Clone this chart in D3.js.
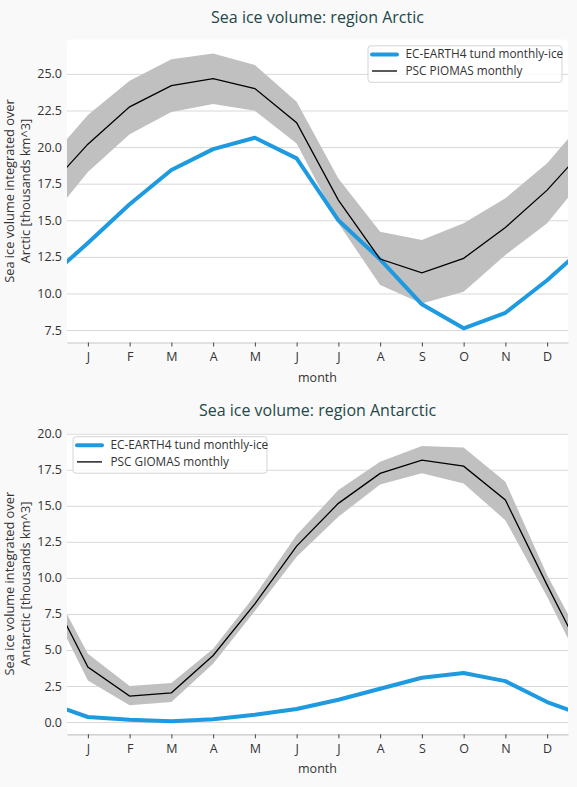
<!DOCTYPE html>
<html>
<head>
<meta charset="utf-8">
<script src="https://cdn.jsdelivr.net/npm/d3@7"></script>
<style>
  html, body { margin: 0; padding: 0; background: #f9f9f9; }
  svg { display: block; font-family: "Open Sans", "Noto Sans", "DejaVu Sans", sans-serif; }
</style>
</head>
<body>
<svg id="chart" width="577" height="787"></svg>
<script>
// ---- data ----
const monthLabels = ["J", "F", "M", "A", "M", "J", "J", "A", "S", "O", "N", "D"];
const monthIndex = [1, 2, 3, 4, 5, 6, 7, 8, 9, 10, 11, 12];

const arcticModel   = [13.45, 16.1, 18.43, 19.86, 20.64, 19.23, 15.0, 12.33, 9.26, 7.62, 8.68, 10.9];
const arcticObs     = [20.2, 22.75, 24.2, 24.67, 24.0, 21.66, 16.38, 12.35, 11.41, 12.4, 14.5, 17.06];
const arcticObsLow  = [18.3, 20.87, 22.4, 22.94, 22.48, 20.25, 14.79, 10.57, 9.32, 10.12, 12.62, 14.79];
const arcticObsHigh = [22.2, 24.53, 26.0, 26.4, 25.6, 23.1, 17.86, 14.21, 13.65, 14.79, 16.5, 18.89];

const antarcticModel   = [0.35, 0.16, 0.05, 0.19, 0.51, 0.9, 1.55, 2.31, 3.07, 3.40, 2.84, 1.39];
const antarcticObs     = [3.81, 1.80, 2.03, 4.62, 8.2, 12.2, 15.17, 17.25, 18.17, 17.75, 15.4, 9.5];
const antarcticObsLow  = [2.89, 1.16, 1.39, 4.04, 7.7, 11.47, 14.24, 16.48, 17.25, 16.55, 14.0, 8.7];
const antarcticObsHigh = [4.74, 2.5, 2.7, 5.08, 8.78, 12.97, 16.09, 18.05, 19.14, 19.05, 16.67, 10.2];

const arcticTicks = [7.5, 10.0, 12.5, 15.0, 17.5, 20.0, 22.5, 25.0];
const antarcticTicks = [0.0, 2.5, 5.0, 7.5, 10.0, 12.5, 15.0, 17.5, 20.0];

const panels = [
  {
    title: "Sea ice volume: region Arctic",
    ylab: ["Sea ice volume integrated over", "Arctic [thousands km^3]"],
    model: arcticModel, obs: arcticObs, low: arcticObsLow, high: arcticObsHigh,
    ticks: arcticTicks, domain: [6.65, 27.35],
    modelName: "EC-EARTH4 tund monthly-ice", obsName: "PSC PIOMAS monthly",
    top: 39.5, bottom: 342.5, titleY: 23, legend: "right"
  },
  {
    title: "Sea ice volume: region Antarctic",
    ylab: ["Sea ice volume integrated over", "Antarctic [thousands km^3]"],
    model: antarcticModel, obs: antarcticObs, low: antarcticObsLow, high: antarcticObsHigh,
    ticks: antarcticTicks, domain: [-0.85, 20.05],
    modelName: "EC-EARTH4 tund monthly-ice", obsName: "PSC GIOMAS monthly",
    top: 433, bottom: 734.3, titleY: 415.5, legend: "left"
  }
];

// ---- drawing ----
const svg = d3.select("#chart");
const left = 67, right = 568;
const blue = "#1e9ae0", band = "#c0c0c0", titleColor = "#244848", textColor = "#333333";

const x = d3.scaleLinear().domain([0.5, 12.5]).range([left, right]);

// wrap the monthly cycle: previous December before January, next January after December
function cyclic(arr) {
  const pts = arr.map((v, i) => ({ m: monthIndex[i], v }));
  return [{ m: 0, v: arr[11] }, ...pts, { m: 13, v: arr[0] }];
}

panels.forEach((p, pi) => {
  const y = d3.scaleLinear().domain(p.domain).range([p.bottom, p.top]);
  const g = svg.append("g");
  const clipId = "clip" + pi;

  svg.append("clipPath").attr("id", clipId)
    .append("rect").attr("x", left).attr("y", p.top).attr("width", right - left).attr("height", p.bottom - p.top);

  // plot background
  g.append("rect").attr("x", left).attr("y", p.top).attr("width", right - left).attr("height", p.bottom - p.top)
    .attr("rx", 3).attr("fill", "#ffffff");

  // y grid + labels
  const yAxis = d3.axisLeft(y).tickValues(p.ticks).tickFormat(d3.format(".1f"))
    .tickSize(-(right - left)).tickPadding(5);
  const ya = g.append("g").attr("transform", `translate(${left},0)`).call(yAxis);
  ya.select(".domain").remove();
  ya.selectAll(".tick line").attr("stroke", "#d8d8d8").attr("stroke-width", 1);
  ya.selectAll(".tick text").attr("fill", textColor).attr("font-size", 12.5)
    .attr("font-family", "'Open Sans', 'Noto Sans', sans-serif");

  // x axis
  const xAxis = d3.axisBottom(x).tickValues(monthIndex).tickFormat(d => monthLabels[d - 1])
    .tickSizeInner(4).tickSizeOuter(0).tickPadding(6);
  const xa = g.append("g").attr("transform", `translate(0,${p.bottom})`).call(xAxis);
  xa.select(".domain").attr("stroke", "#c8c8c8").attr("stroke-width", 1.2);
  xa.selectAll(".tick line").attr("stroke", "#444").attr("stroke-width", 1);
  xa.selectAll(".tick text").attr("fill", textColor).attr("font-size", 12.5)
    .attr("font-family", "'Open Sans', 'Noto Sans', sans-serif");

  // data layers
  const lowC = cyclic(p.low), highC = cyclic(p.high);
  const bandData = lowC.map((d, i) => ({ m: d.m, lo: d.v, hi: highC[i].v }));
  const plot = g.append("g").attr("clip-path", `url(#${clipId})`);

  plot.append("path").datum(bandData)
    .attr("d", d3.area().x(d => x(d.m)).y0(d => y(d.lo)).y1(d => y(d.hi)))
    .attr("fill", band).attr("stroke", "none");

  plot.append("path").datum(cyclic(p.model))
    .attr("d", d3.line().x(d => x(d.m)).y(d => y(d.v)))
    .attr("fill", "none").attr("stroke", blue).attr("stroke-width", 4).attr("stroke-linejoin", "round");

  plot.append("path").datum(cyclic(p.obs))
    .attr("d", d3.line().x(d => x(d.m)).y(d => y(d.v)))
    .attr("fill", "none").attr("stroke", "#000").attr("stroke-width", 1.3);

  // title
  g.append("text").attr("x", (left + right) / 2).attr("y", p.titleY)
    .attr("text-anchor", "middle").attr("fill", titleColor).attr("font-size", 16)
    .text(p.title);

  // x label
  g.append("text").attr("x", (left + right) / 2).attr("y", p.bottom + 39)
    .attr("text-anchor", "middle").attr("fill", textColor).attr("font-size", 12.5).text("month");

  // y label (two lines)
  const cy = (p.top + p.bottom) / 2;
  p.ylab.forEach((t, i) => {
    g.append("text").attr("transform", `translate(${13.5 + i * 16},${cy}) rotate(-90)`)
      .attr("text-anchor", "middle").attr("fill", textColor).attr("font-size", 12.8).text(t);
  });

  // legend
  const lw = 194, lh = 36.5;
  const lx = p.legend === "right" ? 368 : 73;
  const ly = p.top + (p.legend === "right" ? 6.3 : 3.7);
  const lg = g.append("g").attr("transform", `translate(${lx},${ly})`);
  lg.append("rect").attr("width", lw).attr("height", lh).attr("rx", 3)
    .attr("fill", "#ffffff").attr("fill-opacity", 0.85).attr("stroke", "#d4d4d4").attr("stroke-width", 1);
  const items = [
    { name: p.modelName, color: blue, w: 4 },
    { name: p.obsName, color: "#000", w: 1.3 }
  ];
  items.forEach((it, i) => {
    const yy = 8.6 + i * 16.6;
    lg.append("line").attr("x1", 4).attr("x2", 29).attr("y1", yy).attr("y2", yy)
      .attr("stroke", it.color).attr("stroke-width", it.w).attr("stroke-linecap", i === 0 ? "round" : "butt");
    lg.append("text").attr("x", 37.5).attr("y", yy + 4).attr("fill", textColor).attr("font-size", 11.8)
      .text(it.name);
  });
});
</script>
</body>
</html>
